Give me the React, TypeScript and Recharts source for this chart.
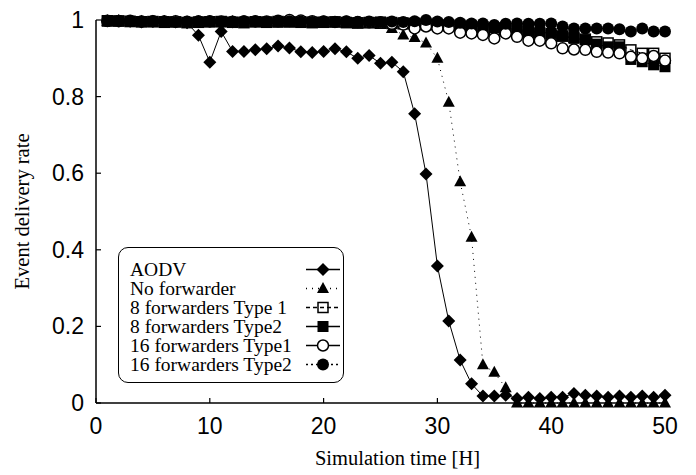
import React from 'react';
import { LineChart, Line, XAxis, YAxis, Label } from 'recharts';

// simulation hours
const hours = [
  1, 2, 3, 4, 5, 6, 7, 8, 9, 10, 11, 12, 13, 14, 15, 16, 17, 18, 19, 20, 21, 22, 23, 24, 25,
  26, 27, 28, 29, 30, 31, 32, 33, 34, 35, 36, 37, 38, 39, 40, 41, 42, 43, 44, 45, 46, 47, 48, 49, 50,
];

const aodv = [
  0.998, 0.998, 0.997, 0.995, 0.997, 0.996, 0.995, 0.993, 0.96, 0.89, 0.97, 0.918, 0.918, 0.922, 0.925,
  0.932, 0.927, 0.917, 0.915, 0.918, 0.925, 0.917, 0.9, 0.907, 0.887,
  0.89, 0.865, 0.755, 0.598, 0.358, 0.214, 0.112, 0.05, 0.018, 0.018, 0.02, 0.012, 0.015, 0.012, 0.015,
  0.015, 0.025, 0.02, 0.018, 0.015, 0.018, 0.015, 0.018, 0.015, 0.02,
];

const noForwarder = [
  0.997, 0.998, 0.996, 0.997, 0.995, 0.996, 0.997, 0.995, 0.996, 0.994, 0.995, 0.996, 0.995, 0.994, 0.995,
  0.996, 0.994, 0.995, 0.993, 0.994, 0.993, 0.992, 0.99, 0.99, 0.988,
  0.978, 0.961, 0.954, 0.94, 0.9, 0.785, 0.578, 0.433, 0.1, 0.08, 0.04, 0, 0, 0, 0,
  0, 0, 0, 0, 0, 0, 0, 0, 0, 0,
];

const fw8Type1 = [
  0.998, 0.997, 0.996, 0.995, 0.996, 0.994, 0.995, 0.993, 0.994, 0.995, 0.996, 0.994, 0.993, 0.995, 0.994,
  0.996, 0.995, 0.994, 0.993, 0.994, 0.995, 0.993, 0.992, 0.993, 0.992,
  0.991, 0.99, 0.99, 0.988, 0.987, 0.985, 0.982, 0.98, 0.978, 0.975, 0.972, 0.97, 0.968, 0.965, 0.96,
  0.958, 0.955, 0.95, 0.943, 0.94, 0.935, 0.922, 0.913, 0.913, 0.9,
];

const fw8Type2 = [
  0.997, 0.998, 0.997, 0.996, 0.995, 0.996, 0.995, 0.994, 0.995, 0.996, 0.995, 0.994, 0.995, 0.996, 0.995,
  0.994, 0.995, 0.996, 0.995, 0.994, 0.995, 0.994, 0.993, 0.994, 0.995,
  0.994, 0.993, 0.992, 0.99, 0.99, 0.988, 0.987, 0.985, 0.983, 0.98, 0.978, 0.975, 0.972, 0.968, 0.965,
  0.958, 0.952, 0.948, 0.937, 0.93, 0.93, 0.897, 0.891, 0.883, 0.878,
];

const fw16Type1 = [
  0.998, 0.997, 0.998, 0.996, 0.997, 0.996, 0.997, 0.995, 0.996, 0.997, 0.996, 0.995, 0.996, 0.997, 0.996,
  0.998, 1.0, 0.999, 0.997, 0.996, 0.995, 0.996, 0.995, 0.994, 0.993,
  0.99, 0.988, 0.978, 0.983, 0.978, 0.978, 0.967, 0.965, 0.961, 0.952, 0.965, 0.956, 0.946, 0.946, 0.939,
  0.926, 0.923, 0.922, 0.917, 0.915, 0.913, 0.904, 0.9, 0.906, 0.894,
];

const fw16Type2 = [
  0.997, 0.998, 0.997, 0.996, 0.997, 0.996, 0.995, 0.996, 0.997, 0.996, 0.995, 0.996, 0.997, 0.996, 0.995,
  0.996, 0.997, 0.996, 0.995, 0.996, 0.995, 0.996, 0.995, 0.996, 0.995,
  0.996, 0.995, 0.997, 1.0, 0.996, 0.995, 0.993, 0.991, 0.991, 0.987, 0.99, 0.991, 0.99, 0.99, 0.991,
  0.983, 0.978, 0.978, 0.978, 0.978, 0.976, 0.97, 0.978, 0.97, 0.97,
];

const xTicks = [0, 10, 20, 30, 40, 50];
const yTicks = [0, 0.2, 0.4, 0.6, 0.8, 1];

const data = hours.map((h, i) => ({
  hour: h,
  aodv: aodv[i],
  noFwd: noForwarder[i],
  fw8t1: fw8Type1[i],
  fw8t2: fw8Type2[i],
  fw16t1: fw16Type1[i],
  fw16t2: fw16Type2[i],
}));

type Kind = 'diamond' | 'triangle' | 'squareOpen' | 'square' | 'circleOpen' | 'circle';

const series: { key: string; name: string; dash?: string; kind: Kind }[] = [
  { key: 'aodv', name: 'AODV', kind: 'diamond' },
  { key: 'noFwd', name: 'No forwarder', dash: '1 5', kind: 'triangle' },
  { key: 'fw8t1', name: '8 forwarders Type 1', dash: '4 3', kind: 'squareOpen' },
  { key: 'fw8t2', name: '8 forwarders Type2', kind: 'square' },
  { key: 'fw16t1', name: '16 forwarders Type1', kind: 'circleOpen' },
  { key: 'fw16t2', name: '16 forwarders Type2', dash: '2 3', kind: 'circle' },
];

const SANS = '"Liberation Sans", Arial, sans-serif';
const SERIF = '"Liberation Serif", "Times New Roman", serif';

const Marker = ({ kind, cx, cy }: { kind: Kind; cx: number; cy: number }) => {
  switch (kind) {
    case 'diamond':
      return <path d={`M${cx} ${cy - 6.5}L${cx + 6.5} ${cy}L${cx} ${cy + 6.5}L${cx - 6.5} ${cy}Z`} fill="#000" />;
    case 'triangle':
      return <path d={`M${cx} ${cy - 6.5}L${cx + 6} ${cy + 4.5}L${cx - 6} ${cy + 4.5}Z`} fill="#000" />;
    case 'squareOpen':
      return <rect x={cx - 5} y={cy - 5} width={10} height={10} fill="none" stroke="#000" strokeWidth={1.5} />;
    case 'square':
      return <rect x={cx - 5.5} y={cy - 5.5} width={11} height={11} fill="#000" />;
    case 'circleOpen':
      return <circle cx={cx} cy={cy} r={5.5} fill="#fff" stroke="#000" strokeWidth={1.5} />;
    default:
      return <circle cx={cx} cy={cy} r={6} fill="#000" />;
  }
};

const LeftTick = ({ x, y, payload }: any) => (
  <g>
    <line x1={x} y1={y} x2={x + 5} y2={y} stroke="#000" strokeWidth={1.2} />
    <text x={x - 12} y={y} textAnchor="end" dominantBaseline="central" fontFamily={SANS} fontSize={23} fill="#000">
      {payload.value}
    </text>
  </g>
);

const RightTick = ({ x, y }: any) => (
  <line x1={x} y1={y} x2={x - 5} y2={y} stroke="#000" strokeWidth={1.2} />
);

const BottomTick = ({ x, y, payload }: any) => (
  <g>
    <line x1={x} y1={y} x2={x} y2={y - 5} stroke="#000" strokeWidth={1.2} />
    <text x={x} y={y + 31} textAnchor="middle" fontFamily={SANS} fontSize={23} fill="#000">
      {payload.value}
    </text>
  </g>
);

const TopTick = ({ x, y }: any) => (
  <line x1={x} y1={y} x2={x} y2={y + 5} stroke="#000" strokeWidth={1.2} />
);

const LegendBox = () => (
  <div
    style={{
      position: 'absolute',
      left: 118,
      top: 247,
      width: 226,
      height: 136,
      boxSizing: 'border-box',
      border: '1.5px solid #000',
      borderRadius: 10,
      paddingTop: 12,
      fontFamily: SERIF,
      fontSize: 19.5,
      background: '#fff',
    }}
  >
    {series.map((s) => (
      <div key={s.key} style={{ position: 'relative', height: 19, lineHeight: '19px' }}>
        <span style={{ position: 'absolute', left: 11, whiteSpace: 'nowrap' }}>{s.name}</span>
        <svg width={40} height={19} style={{ position: 'absolute', left: 184, top: 0 }}>
          <line x1={3} y1={9.5} x2={37} y2={9.5} stroke="#000" strokeWidth={1.5} strokeDasharray={s.dash} />
          <Marker kind={s.kind} cx={20} cy={9.5} />
        </svg>
      </div>
    ))}
  </div>
);

const App = () => (
  <div style={{ position: 'absolute', left: 0, top: 0, width: 696, height: 475, background: '#fff' }}>
    <LineChart width={696} height={475} data={data} margin={{ top: 20, right: 31, bottom: 0, left: 0 }}>
      <XAxis
        dataKey="hour"
        type="number"
        domain={[0, 50]}
        ticks={xTicks}
        height={72}
        tickSize={0}
        tickMargin={0}
        tickLine={false}
        axisLine={{ stroke: '#000', strokeWidth: 1.5 }}
        tick={<BottomTick />}
        interval={0}
      >
        <Label
          content={({ viewBox }: any) => (
            <text
              x={viewBox.x + viewBox.width / 2 + 17}
              y={viewBox.y + 62}
              textAnchor="middle"
              fontFamily={SERIF}
              fontSize={20.5}
              fill="#000"
            >
              Simulation time [H]
            </text>
          )}
        />
      </XAxis>
      <XAxis
        xAxisId="top"
        orientation="top"
        dataKey="hour"
        type="number"
        domain={[0, 50]}
        ticks={xTicks}
        height={0}
        tickSize={0}
        tickMargin={0}
        tickLine={false}
        axisLine={{ stroke: '#000', strokeWidth: 1.5 }}
        tick={<TopTick />}
        interval={0}
      />
      <YAxis
        type="number"
        domain={[0, 1]}
        ticks={yTicks}
        width={96}
        tickSize={0}
        tickMargin={0}
        tickLine={false}
        axisLine={{ stroke: '#000', strokeWidth: 1.5 }}
        tick={<LeftTick />}
        interval={0}
      >
        <Label
          content={({ viewBox }: any) => (
            <text
              x={viewBox.x + 22}
              y={viewBox.y + viewBox.height / 2}
              transform={`rotate(-90 ${viewBox.x + 22} ${viewBox.y + viewBox.height / 2})`}
              textAnchor="middle"
              dominantBaseline="central"
              fontFamily={SERIF}
              fontSize={20.5}
              fill="#000"
            >
              Event delivery rate
            </text>
          )}
        />
      </YAxis>
      <YAxis
        yAxisId="right"
        orientation="right"
        type="number"
        domain={[0, 1]}
        ticks={yTicks}
        width={0}
        tickSize={0}
        tickMargin={0}
        tickLine={false}
        axisLine={{ stroke: '#000', strokeWidth: 1.5 }}
        tick={<RightTick />}
        interval={0}
      />
      {series.map((s) => (
        <Line
          key={s.key}
          dataKey={s.key}
          name={s.name}
          type="linear"
          stroke="#000"
          strokeWidth={1}
          strokeDasharray={s.dash}
          isAnimationActive={false}
          activeDot={false}
          dot={(p: any) => <Marker key={`${s.key}-${p.index}`} kind={s.kind} cx={p.cx} cy={p.cy} />}
        />
      ))}
    </LineChart>
    <LegendBox />
  </div>
);

export default App;
